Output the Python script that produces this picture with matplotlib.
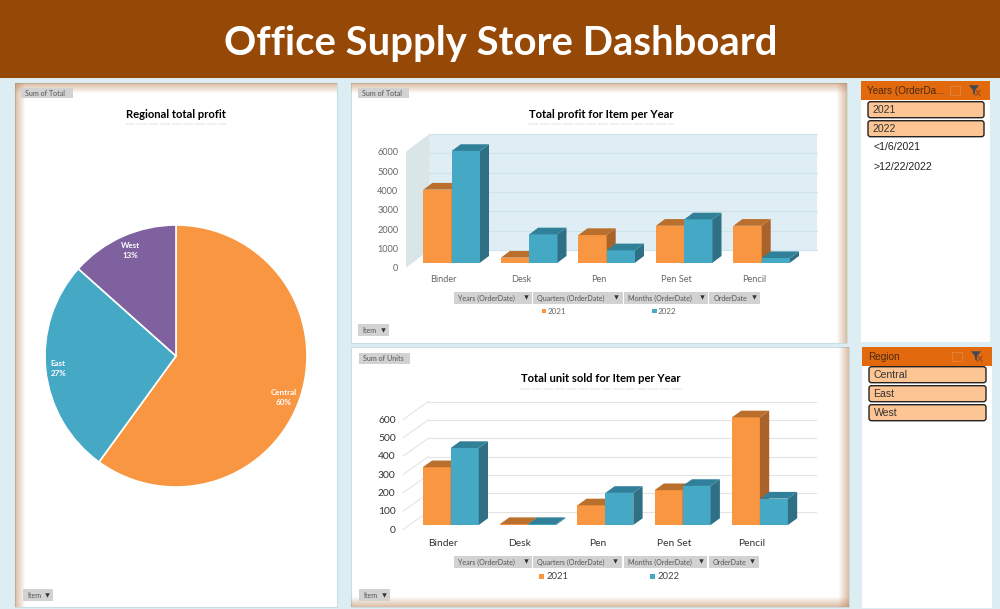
import matplotlib
matplotlib.use('Agg')
import matplotlib.pyplot as plt
from matplotlib.patches import Rectangle, Polygon, FancyBboxPatch

plt.rcParams['font.family'] = ['Lato', 'DejaVu Sans']

# data
items = ['Binder', 'Desk', 'Pen', 'Pen Set', 'Pencil']
years = ['2021', '2022']
profit_2021 = [3780, 260, 1430, 1910, 1910]
profit_2022 = [5780, 1465, 640, 2240, 240]
units_2021 = [315, 5, 107, 190, 587]
units_2022 = [420, 5, 175, 213, 144]
profit_ticks = [0, 1000, 2000, 3000, 4000, 5000, 6000]
units_ticks = [0, 100, 200, 300, 400, 500, 600]
regions = ['Central', 'East', 'West']
region_share = [60.0, 26.6, 13.4]
field_names = ['Years (OrderDate)', 'Quarters (OrderDate)', 'Months (OrderDate)', 'OrderDate']
year_slicer = ['2021', '2022']
year_slicer_extra = ['<1/6/2021', '>12/22/2022']
region_slicer = ['Central', 'East', 'West']

ORANGE = ('#F99641', '#A8622A', '#BA6F2C')
BLUE = ('#45A9C6', '#2F7085', '#31809A')
PIE_COLORS = ['#F99641', '#45A9C6', '#7F619F']
TAN = '#B9804F'

fig = plt.figure(figsize=(10, 6.09), dpi=100, facecolor='#DCEEF3')

# background axes in pixel coordinates for the dashboard furniture
bg = fig.add_axes([0, 0, 1, 1])
bg.set_xlim(0, 1000)
bg.set_ylim(609, 0)
bg.axis('off')

bg.add_patch(Rectangle((0, 0), 1000, 78, fc='#964807', ec='none'))
bg.text(501, 55, 'Office Supply Store Dashboard', color='white', fontsize=28.8,
        fontweight='bold', ha='center', va='baseline')


def panel(x0, y0, x1, y1, sides):
    bg.add_patch(Rectangle((x0, y0), x1 - x0, y1 - y0, fc='white', ec='#C9DDE3', lw=0.8))
    for i in range(10):
        a = 0.5 * (1 - i / 10)
        if 'l' in sides:
            bg.add_patch(Rectangle((x0 + i, y0), 1, y1 - y0, fc=TAN, ec='none', alpha=a))
        if 'r' in sides:
            bg.add_patch(Rectangle((x1 - i - 1, y0), 1, y1 - y0, fc=TAN, ec='none', alpha=a))
        if 't' in sides:
            bg.add_patch(Rectangle((x0, y0 + i), x1 - x0, 1, fc=TAN, ec='none', alpha=a))
        if 'b' in sides:
            bg.add_patch(Rectangle((x0, y1 - i - 1), x1 - x0, 1, fc=TAN, ec='none', alpha=a))


def field_button(x0, x1, y0, y1, label, arrow=True, size=5.1):
    bg.add_patch(Rectangle((x0, y0), x1 - x0, y1 - y0, fc='#D2D2D2', ec='none'))
    bg.text(x0 + 4, (y0 + y1) / 2 + 0.3, label, fontsize=size, color='#555555', va='center', ha='left')
    if arrow:
        bg.plot([x1 - 6.5], [(y0 + y1) / 2 - 0.5], marker='v', ms=3.2, color='#333333', mew=0)


def title(x, y, label, w):
    bg.text(x, y, label, fontsize=8.1, fontweight='bold', color='black', ha='center', va='center')
    # faint reflection under the title
    bg.plot([x - w / 2, x + w / 2], [y + 9.5, y + 9.5], color='#EFEFEF', lw=1.2, ls=(0, (6, 1)))


def chart_3d(left, right, top, floor, back_x, back_y, base_y, first_x, step, bar_w, depth_x, depth_y,
             unit_px, ticks, vals_a, vals_b, wall, label_x_off, tick_color, tick_size, pad_x):
    # axes sits on the front plane of the plot, value 0 on the front floor line
    ax = fig.add_axes([left / 1000, 1 - floor / 609, (right - left) / 1000, (floor - top) / 609])
    ax.patch.set_alpha(0)
    for s in ax.spines.values():
        s.set_visible(False)
    ax.set_xlim((left - first_x) / step, (right - first_x) / step)
    ax.set_ylim(0, (floor - top) / unit_px)
    ux = 1 / step
    uy = 1 / unit_px
    dx_wall = (back_x - left) * ux
    dy_wall = (floor - back_y) * uy
    x_l = ax.get_xlim()[0]
    x_r = ax.get_xlim()[1]
    y_max = ticks[-1]
    if wall:
        ax.add_patch(Polygon([(x_l + dx_wall, dy_wall), (x_r, dy_wall), (x_r, y_max + dy_wall),
                              (x_l + dx_wall, y_max + dy_wall)], fc='#DEEEF4', ec='none', clip_on=False))
        ax.add_patch(Polygon([(x_l, 0), (x_l + dx_wall, dy_wall), (x_l + dx_wall, y_max + dy_wall),
                              (x_l, y_max)], fc='#D9E5E7', ec='none', clip_on=False))
    for t in ticks:
        ax.plot([x_l + dx_wall, x_r], [t + dy_wall, t + dy_wall], lw=0.8, clip_on=False,
                color='#CFE3EB' if wall else '#E4E4E4')
        if not wall:
            ax.plot([x_l, x_l + dx_wall], [t, t + dy_wall], lw=0.8, color='#E4E4E4', clip_on=False)
    base = (floor - base_y) * uy
    w = bar_w * ux
    dx = depth_x * ux
    dy = depth_y * uy
    for i in range(len(items)):
        for v, off, cols in ((vals_a[i], -w, ORANGE), (vals_b[i], 0, BLUE)):
            ax.bar(i + off, v, width=w, bottom=base, align='edge', color=cols[0], lw=0, zorder=3 + i)
            x2 = i + off + w
            y2 = base + v
            ax.add_patch(Polygon([(x2, base), (x2 + dx, base + dy), (x2 + dx, y2 + dy), (x2, y2)],
                                 fc=cols[1], ec='none', zorder=3 + i, clip_on=False))
            ax.add_patch(Polygon([(i + off, y2), (x2, y2), (x2 + dx, y2 + dy), (i + off + dx, y2 + dy)],
                                 fc=cols[2], ec='none', zorder=3 + i, clip_on=False))
    ax.set_yticks(ticks)
    ax.set_xticks([i - label_x_off * ux for i in range(len(items))])
    ax.set_xticklabels(items)
    ax.tick_params(axis='both', length=0, labelcolor=tick_color, labelsize=tick_size)
    ax.tick_params(axis='y', pad=5.5)
    ax.tick_params(axis='x', pad=pad_x)
    return ax


def legend_row(xs, y, color_text, size, gap):
    for x, lab, c in zip(xs, years, (ORANGE[0], BLUE[0])):
        bg.add_patch(Rectangle((x - 2.2, y - 2.2), 4.5, 4.5, fc=c, ec='none'))
        bg.text(x + gap, y, lab, fontsize=size, color=color_text, va='center')


# panels
panel(15, 83, 337, 607, 'lt')
panel(351, 83, 847, 343, 'tr')
panel(351, 347, 849, 607, 'rb')

# left pie
title(176, 114, 'Regional total profit', 102)
field_button(21, 73, 88, 98, 'Sum of Total', arrow=False)
field_button(23, 53, 589, 601, 'Item')
r = 131
cx = 176
cy = 356
pie_ax = fig.add_axes([(cx - r) / 1000, 1 - (cy + r) / 609, 2 * r / 1000, 2 * r / 609])
pie_ax.pie(region_share, colors=PIE_COLORS, startangle=90, counterclock=False, radius=1,
           wedgeprops={'edgecolor': 'white', 'linewidth': 1.2})
pie_ax.set_xlim(-1, 1)
pie_ax.set_ylim(-1, 1)
for name, share, (lx, ly) in zip(regions, region_share, [(284, 397.7), (58.3, 368.3), (130.7, 250.7)]):
    pie_ax.text(lx, ly, f'{name}\n{share:.0f}%', transform=bg.transData, color='white', fontsize=5.8,
                fontweight='bold', ha='center', va='center', linespacing=1.45)

# profit chart
title(601, 114, 'Total profit for Item per Year', 146)
field_button(358, 409, 88, 98, 'Sum of Total', arrow=False)
field_button(358, 389, 324, 336, 'Item')
chart_3d(406, 817, 130, 267.7, 429.3, 250, 262.7, 451.7, 77.5, 28.3, 9, 6.7, 116 / 6000,
         profit_ticks, profit_2021, profit_2022, True, 8, '#666666', 6.6, 5)
for (a, b), name in zip([(454, 532), (533, 622.7), (624, 708), (709.3, 760)], field_names):
    field_button(a, b, 292.3, 303.5, name)
legend_row([544, 654.5], 311, '#666666', 5.8, 3.5)

# units chart
title(601, 379, 'Total unit sold for Item per Year', 162)
field_button(359, 410, 353, 364, 'Sum of Units', arrow=False)
field_button(359, 390, 589, 601, 'Item')
chart_3d(403.3, 816, 398, 529.3, 428.3, 511.6, 525, 450.7, 77.3, 28, 9.3, 6.7, 110 / 600,
         units_ticks, units_2021, units_2022, False, 8, '#333333', 7.4, 7)
for (a, b), name in zip([(454, 532), (533, 621.7), (623.5, 707), (708.5, 758.5)], field_names):
    field_button(a, b, 556, 567.7, name)
legend_row([541.5, 652.5], 576.5, '#444444', 6.8, 5)


# slicers
def slicer(x0, x1, y0, y1, head_h, head_col, name, buttons, extras, bx0, bx1, by0, by_step):
    bg.add_patch(Rectangle((x0, y0), x1 - x0, y1 - y0, fc='white', ec='none'))
    bg.add_patch(Rectangle((x0, y0), x1 - x0, head_h, fc=head_col, ec='none'))
    bg.text(x0 + 6, y0 + head_h / 2 + 0.3, name, family='Liberation Sans', fontsize=7.2, color='#4A2A10', va='center')
    cy = y0 + head_h / 2
    bg.add_patch(Rectangle((x1 - 40, cy - 4.5), 10, 9, fc='none', ec='#E5853E', lw=0.6))
    bg.add_patch(Polygon([(x1 - 21, cy - 5), (x1 - 11, cy - 5), (x1 - 15, cy), (x1 - 15, cy + 5), (x1 - 17, cy + 3),
                          (x1 - 17, cy)], fc='#3E4A55', ec='none'))
    bg.plot([x1 - 14, x1 - 10], [cy, cy + 5], color='#A8501A', lw=1)
    bg.plot([x1 - 14, x1 - 10], [cy + 5, cy], color='#A8501A', lw=1)
    y = by0
    for lab in buttons:
        bg.add_patch(FancyBboxPatch((bx0 + 1.5, y + 1.5), bx1 - bx0 - 3, 13, boxstyle='round,pad=1.5,rounding_size=2.5',
                                    fc='#FDC594', ec='#222222', lw=1))
        bg.text(bx0 + 4.5, y + 8.3, lab, family='Liberation Sans', fontsize=7.6, color='#333333', va='center')
        y += by_step
    for lab in extras:
        bg.text(bx0 + 5, y + 7.8, lab, family='Liberation Sans', fontsize=7.6, color='#222222', va='center')
        y += by_step


slicer(861, 990, 81, 342, 18.5, '#E3690E', 'Years (OrderDa...', year_slicer, year_slicer_extra, 868, 984, 101.7, 19)
slicer(862, 992, 347, 608, 18.5, '#E3690E', 'Region', region_slicer, [], 869, 986, 366.7, 19)

fig.savefig('out.png', dpi=100, facecolor=fig.get_facecolor())
